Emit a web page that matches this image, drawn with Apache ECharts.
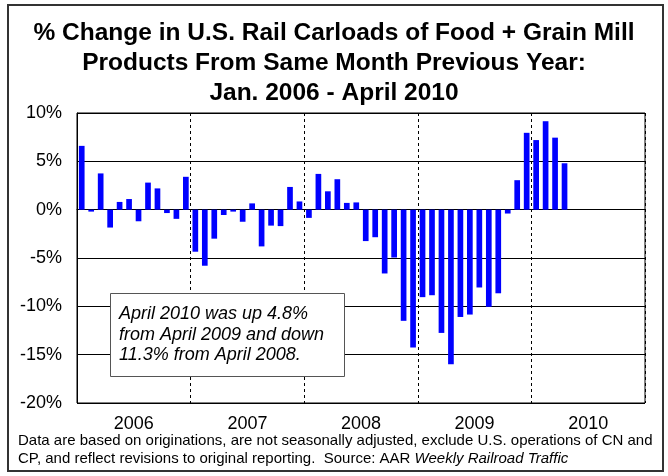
<!DOCTYPE html>
<html>
<head>
<meta charset="utf-8">
<script src="https://cdn.jsdelivr.net/npm/echarts@6/dist/echarts.min.js"></script>
<style>
  html, body { margin: 0; padding: 0; background: #fff; }
  #chart { width: 668px; height: 476px; }
</style>
</head>
<body>
<div id="chart"></div>
<script>
// Year-over-year % change in rail carloads, by month
const years = ['2006', '2007', '2008', '2009', '2010'];
const monthNames = ['Jan', 'Feb', 'Mar', 'Apr', 'May', 'Jun', 'Jul', 'Aug', 'Sep', 'Oct', 'Nov', 'Dec'];

const change2006 = [6.6, -0.2, 3.75, -1.85, 0.8, 1.1, -1.2, 2.8, 2.2, -0.35, -0.95, 3.4];
const change2007 = [-4.35, -5.8, -3.0, -0.55, -0.2, -1.25, 0.65, -3.8, -1.65, -1.7, 2.35, 0.85];
const change2008 = [-0.85, 3.7, 1.9, 3.15, 0.7, 0.75, -3.25, -2.85, -6.6, -4.95, -11.5, -14.25];
const change2009 = [-9.05, -8.85, -12.75, -16.0, -11.1, -10.85, -8.05, -10.05, -8.65, -0.4, 3.05, 7.95];
const change2010 = [7.2, 9.15, 7.45, 4.8];

const yMin = -20, yMax = 10, yStep = 5;

const titleText = '% Change in U.S. Rail Carloads of Food + Grain Mill\nProducts From Same Month Previous Year:\nJan. 2006 - April 2010';
const noteText = 'April 2010 was up 4.8%\nfrom April 2009 and down\n11.3% from April 2008.';
const sourceLine1 = 'Data are based on originations, are not seasonally adjusted, exclude U.S. operations of CN and';
const sourceLine2 = 'CP, and reflect revisions to original reporting.  Source: AAR ';
const sourceTitle = 'Weekly Railroad Traffic';

// One category per month across the full five-year span
const months = [];
years.forEach(y => monthNames.forEach(m => months.push(m + ' ' + y)));
const values = [].concat(change2006, change2007, change2008, change2009, change2010);

const FONT = '"Liberation Sans", Arial, Helvetica, sans-serif';

const chart = echarts.init(document.getElementById('chart'), null, { renderer: 'canvas' });
chart.setOption({
  backgroundColor: '#fff',
  animation: false,
  title: {
    text: titleText,
    left: 'center',
    top: 13,
    textStyle: { fontFamily: FONT, fontSize: 24.5, fontWeight: 'bold', color: '#000', lineHeight: 30 }
  },
  grid: {
    left: 77, right: 23, top: 113, bottom: 73,
    containLabel: false,
    show: true, borderColor: '#000', borderWidth: 1, backgroundColor: 'transparent'
  },
  xAxis: [
    {
      type: 'category',
      data: months,
      boundaryGap: true,
      axisLine: { show: true, lineStyle: { color: '#000', width: 1 } },
      axisTick: { show: false },
      axisLabel: { show: false },
      splitLine: {
        show: true,
        interval: (index) => index > 0 && index % 12 === 0,
        lineStyle: { color: '#000', width: 1, type: [3, 3] }
      }
    },
    {
      type: 'category',
      data: years,
      position: 'bottom',
      boundaryGap: true,
      axisLine: { show: false },
      axisTick: { show: false },
      splitLine: { show: false },
      axisLabel: { fontFamily: FONT, fontSize: 18, color: '#000', margin: 12 }
    }
  ],
  yAxis: {
    type: 'value',
    min: yMin, max: yMax, interval: yStep,
    axisLine: { show: true, lineStyle: { color: '#000' } },
    axisTick: { show: false },
    axisLabel: { formatter: '{value}%', fontFamily: FONT, fontSize: 18, color: '#000', margin: 15 },
    splitLine: { show: true, lineStyle: { color: '#000', width: 1 } }
  },
  series: [{
    type: 'bar',
    xAxisIndex: 0,
    data: values,
    barWidth: '60%',
    itemStyle: { color: '#0000FF' }
  }],
  graphic: [
    {
      type: 'rect',
      shape: { x: 8, y: 5, width: 655, height: 466 },
      style: { fill: 'none', stroke: '#333', lineWidth: 2 },
      silent: true
    },
    {
      type: 'rect',
      shape: { x: 110.5, y: 293.5, width: 234, height: 83 },
      style: { fill: '#fff', stroke: '#555', lineWidth: 1 },
      z: 100
    },
    {
      type: 'text',
      x: 119, y: 304,
      style: {
        text: noteText,
        fontFamily: FONT, fontSize: 18, fontStyle: 'italic',
        lineHeight: 20.5, fill: '#000'
      },
      z: 101
    },
    {
      type: 'text',
      x: 18, y: 432,
      style: {
        text: sourceLine1 + '\n' + sourceLine2 + '{it|' + sourceTitle + '}',
        fontFamily: FONT, fontSize: 15, lineHeight: 18, fill: '#000',
        rich: { it: { fontFamily: FONT, fontSize: 15, fontStyle: 'italic', fill: '#000' } }
      },
      z: 101
    }
  ]
});
</script>
</body>
</html>
